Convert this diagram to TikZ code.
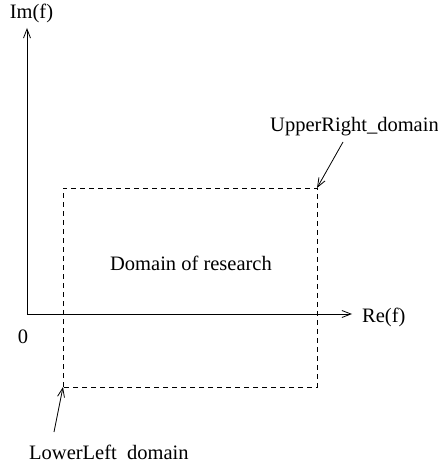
\documentclass[tikz,border=0pt]{standalone}
\usepackage{fontspec}
\setmainfont{Liberation Serif}
\usetikzlibrary{arrows.meta}
\begin{document}
\begin{tikzpicture}[x=10pt, y=10pt, >={Straight Barb[length=9pt,width=7pt]},
  every node/.style={font=\fontsize{20.5}{24}\selectfont, inner sep=0pt},
  axis/.style={line width=0.8pt},
  domainbox/.style={line width=0.8pt, dash pattern=on 5pt off 4pt},
  pointer/.style={->, line width=0.8pt}]
  \useasboundingbox (-2.7,-15.2) rectangle (41.1,31.4);
  % axes
  \coordinate (O) at (0,0);
  \coordinate (ytip) at (0,28.6);
  \coordinate (xtip) at (32.5,0);
  \draw[axis,->] (O) -- (ytip);
  \draw[axis,->] (O) -- (xtip);
  \node[anchor=south] (im) at (0.45,29.1) {Im(f)};
  \node[anchor=west] (re) at (33.5,-0.3) {Re(f)};
  \node (zero) at (-0.4,-2.3) {0};
  % domain
  \coordinate (ll) at (3.6,-7.3);
  \coordinate (ur) at (29.0,12.6);
  \draw[domainbox] (ll) rectangle (ur);
  \node (dom) at (16.4,5.1) {Domain of research};
  \node[anchor=base west] (urlabel) at (24.3,18.2) {UpperRight\_domain};
  \node[anchor=base west] (lllabel) at (0.2,-14.5) {LowerLeft\phantom{\_}domain};
  \coordinate (urfrom) at (31.6,17.2);
  \coordinate (llfrom) at (2.7,-11.8);
  \draw[pointer] (urfrom) -- (ur);
  \draw[pointer] (llfrom) -- (ll);
\end{tikzpicture}
\end{document}
